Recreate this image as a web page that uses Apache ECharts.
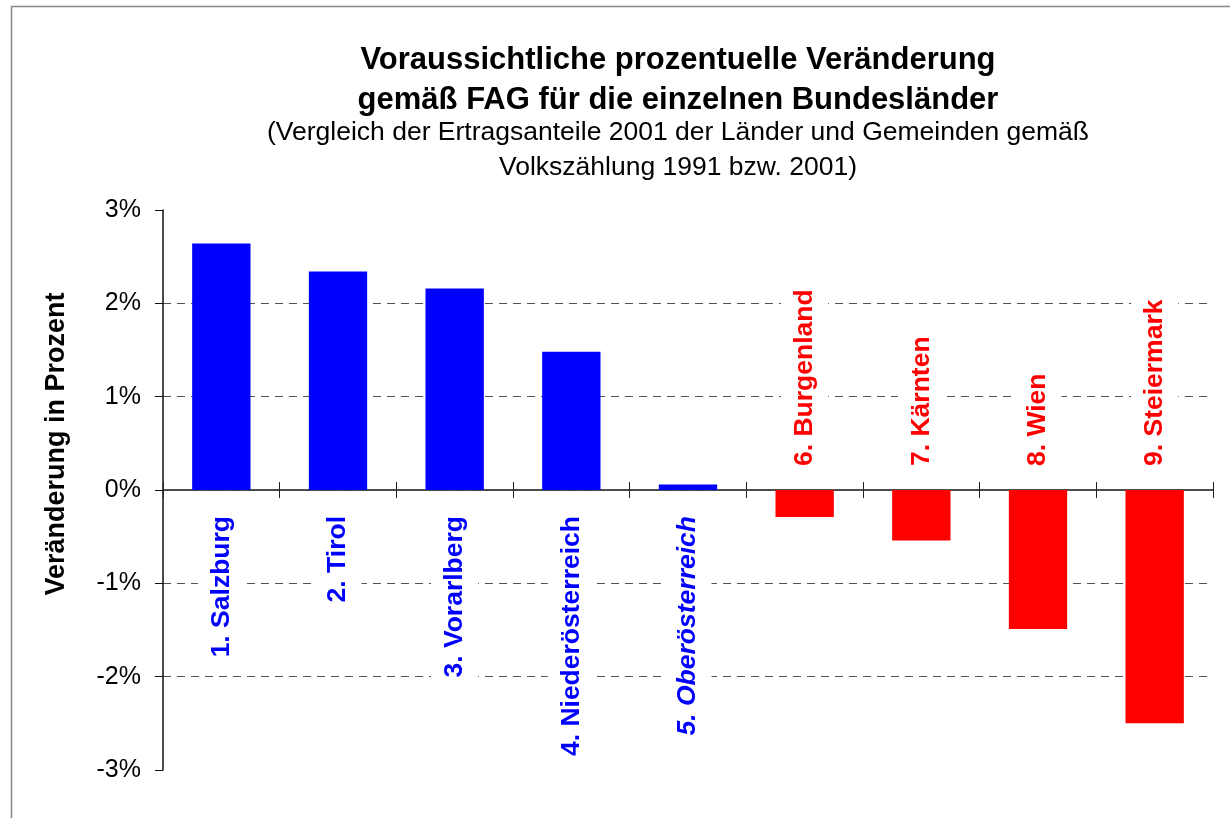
<!DOCTYPE html>
<html>
<head>
<meta charset="utf-8">
<title>Veränderung gemäß FAG</title>
<script src="https://cdn.jsdelivr.net/npm/echarts@6/dist/echarts.min.js"></script>
<style>
  html, body { margin: 0; padding: 0; background: #fff; }
  #chart { width: 1230px; height: 818px; }
</style>
</head>
<body>
<div id="chart"></div>
<script>
// Bundesländer, sortiert nach Veränderung
var categories = [
  '1. Salzburg',
  '2. Tirol',
  '3. Vorarlberg',
  '4. Niederösterreich',
  '5. Oberösterreich',
  '6. Burgenland',
  '7. Kärnten',
  '8. Wien',
  '9. Steiermark'
]
// Veränderung in Prozent
var values = [2.64, 2.34, 2.16, 1.48, 0.06, -0.29, -0.54, -1.49, -2.50]
var italicCats = ['5. Oberösterreich']

var FONT = 'Arial, "Liberation Sans", sans-serif'

// Balken + Beschriftung je nach Vorzeichen
var barData = values.map(function (v, i) {
  var pos = v >= 0
  var col = pos ? '#0000ff' : '#ff0000'
  return {
    value: v,
    itemStyle: { color: col },
    label: {
      show: true,
      formatter: categories[i],
      color: col,
      fontFamily: FONT,
      fontSize: 26.5,
      fontWeight: 'bold',
      fontStyle: italicCats.indexOf(categories[i]) >= 0 ? 'italic' : 'normal',
      rotate: 90,
      // positive: unter der Nulllinie, negative: darüber
      // offset wirkt im gedrehten Textsystem (x = Leserichtung)
      position: pos ? ['50%', '100%'] : ['50%', 0],
      offset: pos ? [-26, 0] : [24, 0],
      align: pos ? 'right' : 'left',
      verticalAlign: 'middle',
      backgroundColor: '#fff',
      padding: [10, 0, 10, 0]
    }
  }
})

var option = {
  animation: false,
  backgroundColor: '#fff',
  graphic: [
    {
      type: 'rect',
      silent: true,
      z: -10,
      shape: { x: 11.5, y: 6.5, width: 1260, height: 860 },
      style: { fill: 'none', stroke: '#888', lineWidth: 1.5 }
    }
  ],
  title: {
    text: 'Voraussichtliche prozentuelle Veränderung\ngemäß FAG für die einzelnen Bundesländer',
    subtext: '(Vergleich der Ertragsanteile 2001 der Länder und Gemeinden gemäß\nVolkszählung 1991 bzw. 2001)',
    left: 673,
    top: 35,
    textAlign: 'center',
    itemGap: -5,
    textStyle: {
      fontFamily: FONT,
      fontSize: 31,
      fontWeight: 'bold',
      color: '#000',
      lineHeight: 40
    },
    subtextStyle: {
      fontFamily: FONT,
      fontSize: 26.5,
      color: '#000',
      lineHeight: 35
    }
  },
  grid: {
    left: 163,
    right: 17,
    top: 210,
    bottom: 48,
    containLabel: false,
    outerBoundsMode: 'none'
  },
  xAxis: [
    {
      type: 'category',
      data: categories,
      position: 'bottom',
      axisLine: { onZero: true, lineStyle: { color: '#444', width: 1.5 } },
      axisTick: { show: true, interval: 0, length: 8, lineStyle: { color: '#222', width: 1 } },
      axisLabel: { show: false },
      splitLine: { show: false }
    },
    {
      // zweite Achse nur für die Kreuz-Ticks, auf die Nulllinie verschoben
      type: 'category',
      data: categories,
      position: 'top',
      offset: -280,
      axisLine: { onZero: false, lineStyle: { color: '#444', width: 1.5 } },
      axisTick: { show: true, interval: 0, length: 8, lineStyle: { color: '#222', width: 1 } },
      axisLabel: { show: false },
      splitLine: { show: false }
    }
  ],
  yAxis: {
    type: 'value',
    min: -3,
    max: 3,
    interval: 1,
    name: 'Veränderung in Prozent',
    nameLocation: 'middle',
    nameGap: 93,
    nameTextStyle: {
      fontFamily: FONT,
      fontSize: 27,
      fontWeight: 'bold',
      color: '#000',
      padding: [0, 0, 0, 92]
    },
    axisLine: { show: true, lineStyle: { color: '#111', width: 1.5 } },
    axisTick: { show: true, length: 8, lineStyle: { color: '#111' } },
    axisLabel: {
      formatter: '{value}%',
      margin: 22,
      fontFamily: FONT,
      fontSize: 25,
      color: '#000'
    },
    splitLine: {
      show: true,
      showMinLine: false,
      showMaxLine: false,
      lineStyle: { color: '#555', type: [8, 6], width: 1.2 }
    }
  },
  series: [
    {
      type: 'bar',
      barWidth: '50%',
      data: barData
    }
  ]
}

var chart = echarts.init(document.getElementById('chart'))
chart.setOption(option)
</script>
</body>
</html>
